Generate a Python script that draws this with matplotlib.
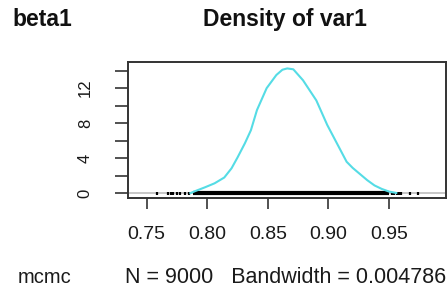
import matplotlib
matplotlib.use("Agg")
import matplotlib.pyplot as plt

plt.rcParams["font.family"] = ["Liberation Sans", "DejaVu Sans"]

# density curve
dens_x = [0.786, 0.790, 0.798, 0.806, 0.814, 0.820, 0.825, 0.831, 0.836, 0.841,
          0.849, 0.857, 0.862, 0.866, 0.871, 0.879, 0.890, 0.899, 0.907, 0.915,
          0.920, 0.926, 0.932, 0.938, 0.944, 0.950, 0.956]
dens_y = [0.02, 0.25, 0.68, 1.14, 1.80, 2.85, 4.10, 5.70, 7.20, 9.50,
          12.0, 13.5, 14.1, 14.25, 14.15, 12.9, 10.6, 7.8, 5.7, 3.6,
          2.9, 2.2, 1.5, 0.9, 0.5, 0.2, 0.04]

# rug: dense band plus the sparse samples in the tails
rug_dense = [0.7884, 0.9502]
rug_sparse = [0.7587, 0.7678, 0.7698, 0.7715, 0.7748, 0.7775, 0.7816, 0.7851,
              0.9521, 0.9543, 0.9563, 0.9582, 0.9598, 0.9672, 0.9741]

x_ticks = [0.75, 0.80, 0.85, 0.90, 0.95]
x_labels = ["0.75", "0.80", "0.85", "0.90", "0.95"]
y_ticks = [0, 2, 4, 6, 8, 10, 12, 14]
y_labels = ["0", "", "4", "", "8", "", "12", ""]

fig = plt.figure(figsize=(4.48, 2.93), dpi=100)
ax = fig.add_axes([0.2864, 0.3232, 0.7085, 0.4642])

ax.axhline(0, color="#bdbdbd", lw=1.2, zorder=1)
ax.plot(rug_dense, [0, 0], color="black", lw=3, solid_capstyle="butt", zorder=2)
ax.vlines(rug_sparse, -0.15, 0.15, color="black", lw=1.6, zorder=2)
ax.plot(dens_x, dens_y, color="#55dce5", lw=1.5, zorder=3)

ax.set_xlim(0.7348, 0.9968)
ax.set_ylim(-0.57, 14.95)

ax.set_xticks(x_ticks)
ax.set_xticklabels(x_labels)
ax.set_yticks(y_ticks)
ax.set_yticklabels(y_labels)
for s in ax.spines.values():
    s.set_color("#333333")
    s.set_linewidth(1.4)
ax.tick_params(axis="x", length=8, width=1.2, pad=12, labelsize=14,
               color="#333333", labelcolor="#1a1a1a")
ax.tick_params(axis="y", length=9.6, width=1.2, pad=16, labelsize=12,
               labelrotation=90, color="#333333", labelcolor="#1a1a1a")
for lab in ax.get_yticklabels():
    lab.set_va("center")

fig.text(0.636, 0.932, "Density of var1", ha="center", va="center",
         fontsize=16.5, fontweight="bold", color="#111111")
fig.text(0.027, 0.932, "beta1", ha="left", va="center",
         fontsize=16.5, fontweight="bold", color="#111111")
fig.text(0.040, 0.0546, "mcmc", ha="left", va="center",
         fontsize=14.5, color="#1a1a1a")
fig.text(0.638, 0.0546, "N = 9000   Bandwidth = 0.004786", ha="center",
         va="center", fontsize=15.5, color="#1a1a1a")

fig.savefig("out.png", dpi=100)
